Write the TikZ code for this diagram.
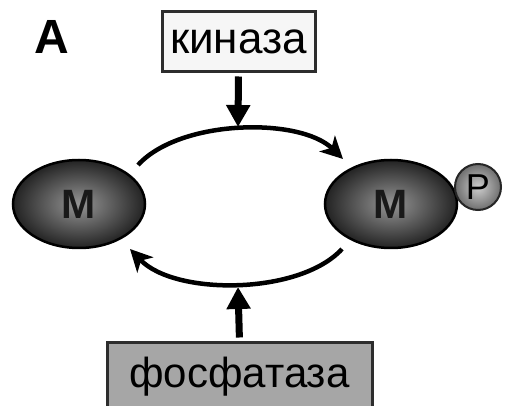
\documentclass[tikz,border=0pt]{standalone}
\usepackage{fontspec}
\setmainfont{Liberation Sans}
\usetikzlibrary{shapes.geometric,arrows.meta}
\definecolor{mIn}{RGB}{150,150,150}
\definecolor{mOut}{RGB}{35,35,35}
\definecolor{pIn}{RGB}{205,205,205}
\definecolor{pOut}{RGB}{110,110,110}
\definecolor{boxline}{RGB}{45,45,45}
\definecolor{kfill}{RGB}{246,246,246}
\definecolor{pfill}{RGB}{166,166,166}
\tikzset{
  enzbox/.style={draw=boxline,line width=3pt,inner sep=0pt,
    font=\fontsize{44}{50}\selectfont},
  molec/.style={ellipse,draw=black,line width=2.5pt,minimum width=132pt,
    minimum height=88pt,inner sep=0pt,shading=radial,inner color=mIn,outer color=mOut,
    font=\bfseries\fontsize{41}{44}\selectfont,text=black!90},
  phos/.style={circle,draw=black!85,line width=2pt,minimum size=46pt,inner sep=0pt,
    shading=radial,inner color=pIn,outer color=pOut,
    font=\fontsize{36}{38}\selectfont,text=black},
  fatarrow/.style={line width=7pt,-{Triangle[width=23pt,length=22pt]}},
  cycarrow/.style={line width=4.5pt,-{Stealth[width=22pt,length=22pt,inset=6pt]}}
}
\begin{document}
\begin{tikzpicture}[x=1pt,y=-1pt]
\clip (0,0) rectangle (507,406);
\fill[white] (0,0) rectangle (507,406);
\node[font=\bfseries\fontsize{48}{52}\selectfont] (lab) at (52,37) {A};
\node[enzbox,fill=kfill,minimum width=153pt,minimum height=60pt] (kin) at (238.5,42) {\raisebox{-4pt}{киназа}};
\node[enzbox,fill=pfill,minimum width=265pt,minimum height=68pt,font=\fontsize{42}{48}\selectfont] (ph) at (239.5,377) {\raisebox{-2pt}{фосфатаза}};
\node[molec] (m1) at (79,204) {M};
\node[molec] (m2) at (391,204) {M};
\node[phos] (p) at (478,187) {P};
\coordinate (a1) at (138,165);
\coordinate (a2) at (343,159);
\coordinate (b1) at (342,249);
\coordinate (b2) at (130,249);
\coordinate (kt) at (238,127);
\coordinate (pt) at (238,287);
\draw[cycarrow] (a1) .. controls (180,119) and (300,117) .. (a2);
\draw[cycarrow] (b1) .. controls (300,295) and (175,296) .. (b2);
\draw[fatarrow,shorten <=3pt] (kin.south) -- (kt);
\draw[fatarrow,shorten <=4pt] (ph.north) -- (pt);
\end{tikzpicture}
\end{document}
